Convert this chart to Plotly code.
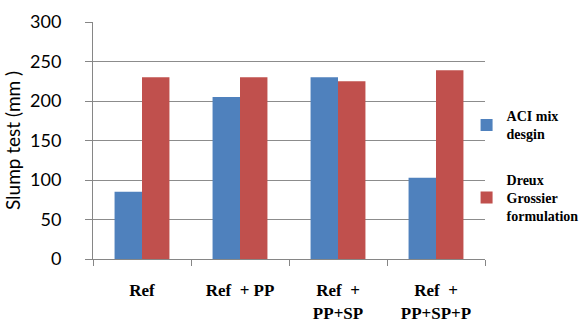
import plotly.graph_objects as go

categories = ["<b>Ref</b>", "<b>Ref  + PP</b>", "<b>Ref  +<br>PP+SP</b>", "<b>Ref  +<br>PP+SP+P</b>"]
aci_values = [85, 205, 230, 103]
dreux_values = [230, 230, 225, 239]
series_names = ["<b>ACI mix<br>desgin</b>", "<b>Dreux<br>Grossier<br>formulation</b>"]
y_ticks = [0, 50, 100, 150, 200, 250, 300]

fig = go.Figure()
fig.add_trace(go.Bar(x=categories, y=aci_values, name=series_names[0],
                     marker=dict(color="#4F81BD", line=dict(width=0)), legendgroup="a"))
fig.add_trace(go.Bar(x=categories, y=dreux_values, name=series_names[1],
                     marker=dict(color="#C0504D", line=dict(width=0)), legendgroup="b"))

fig.update_layout(
    width=584, height=325,
    margin=dict(l=93, r=99, t=22, b=66, autoexpand=False),
    paper_bgcolor="white", plot_bgcolor="white",
    barmode="group", bargap=0.44, bargroupgap=0,
    showlegend=True,
    legend=dict(x=0.953, y=0.67, xanchor="left", yanchor="top",
                font=dict(family="Liberation Serif", size=14, color="black"),
                tracegroupgap=24, itemwidth=30, traceorder="grouped",
                bgcolor="rgba(0,0,0,0)"),
    font=dict(family="Lato", color="black"),
)
fig.update_xaxes(
    automargin=False,
    tickson="boundaries", ticks="outside", ticklen=6, tickcolor="#868686",
    showline=True, linecolor="#868686", linewidth=1,
    ticklabelstandoff=16,
    tickfont=dict(family="Liberation Serif", size=17, color="black"),
)
fig.update_yaxes(
    automargin=False,
    range=[0, 300], tickvals=y_ticks, ticks="outside", ticklen=7, tickcolor="#868686",
    showline=True, linecolor="#868686", linewidth=1,
    showgrid=True, gridcolor="#8C8C8C", gridwidth=1, zeroline=False,
    ticklabelstandoff=20,
    tickfont=dict(family="Lato", size=18, color="black"),
    title=dict(text="Slump test (mm )", font=dict(family="Lato", size=19, color="black"), standoff=4),
)

fig.write_html("out.html", config={"displayModeBar": False},
               post_script="document.body.style.margin='0';")
